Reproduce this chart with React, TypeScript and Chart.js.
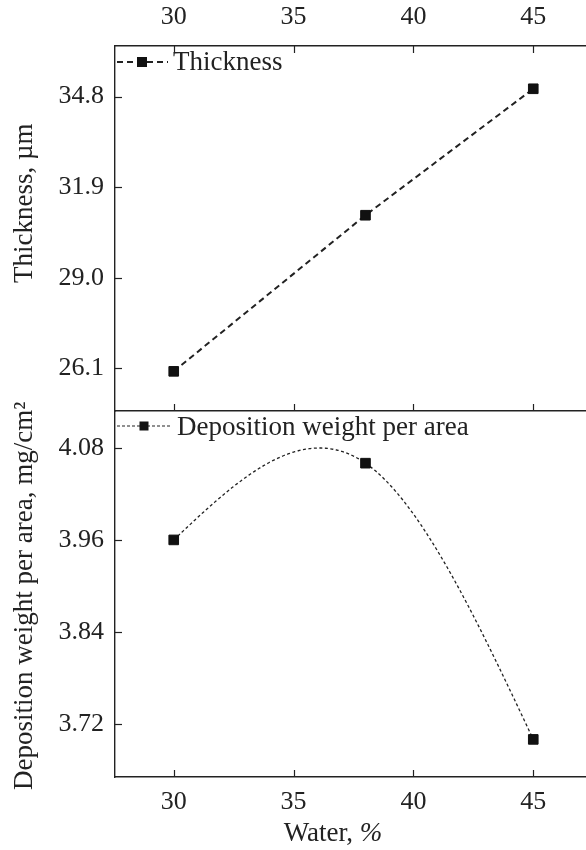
import { useEffect, useRef } from "react";
import { Chart, registerables } from "chart.js";

Chart.register(...registerables);

// Water content (%) and the two measured responses
const waterPct = [30, 38, 45];
const thickness = [26.0, 31.0, 35.05];
const depositionWeight = [3.96, 4.06, 3.7];

// Axis tick values
const waterTicks = [30, 35, 40, 45];
const thicknessTicks = [26.1, 29.0, 31.9, 34.8];
const weightTicks = [3.72, 3.84, 3.96, 4.08];

const FONT = "'Liberation Serif', 'Times New Roman', serif";
const INK = "#222";
const MARK = "#111";

const X_MIN = 27.55;
const X_MAX = 47.2;

// Tick marks drawn on the inside of the frame
const inwardTicks = {
  id: "inwardTicks",
  afterDraw(chart: any, _args: any, opts: any) {
    const { ctx, chartArea } = chart;
    const len = opts.length ?? 7;
    ctx.save();
    ctx.strokeStyle = opts.color ?? INK;
    ctx.lineWidth = opts.width ?? 1.2;
    for (const scale of Object.values<any>(chart.scales)) {
      if (!scale.options.display) continue;
      const pos = scale.options.position;
      scale.ticks.forEach((_t: any, i: number) => {
        const p = Math.round(scale.getPixelForTick(i)) + 0.5;
        ctx.beginPath();
        if (pos === "top") {
          ctx.moveTo(p, chartArea.top);
          ctx.lineTo(p, chartArea.top + len);
        } else if (pos === "bottom") {
          ctx.moveTo(p, chartArea.bottom);
          ctx.lineTo(p, chartArea.bottom - len);
        } else if (pos === "left") {
          ctx.moveTo(chartArea.left, p);
          ctx.lineTo(chartArea.left + len, p);
        }
        ctx.stroke();
      });
    }
    ctx.restore();
  },
};

// Legend entry placed inside the plot frame: line sample, marker, label
const panelLegend = {
  id: "panelLegend",
  afterDraw(chart: any, _args: any, opts: any) {
    const { ctx, chartArea } = chart;
    const ds = chart.data.datasets[0];
    const y = chartArea.top + opts.dy;
    ctx.save();
    ctx.strokeStyle = ds.borderColor;
    ctx.lineWidth = opts.lineWidth;
    ctx.setLineDash(opts.dash);
    ctx.beginPath();
    ctx.moveTo(chartArea.left + 2, y);
    ctx.lineTo(chartArea.left + opts.lineEnd, y);
    ctx.stroke();
    ctx.setLineDash([]);
    const s = opts.marker;
    ctx.fillStyle = MARK;
    ctx.fillRect(chartArea.left + opts.markerX - s / 2, y - s / 2, s, s);
    ctx.fillStyle = INK;
    ctx.font = `${opts.fontSize}px ${FONT}`;
    ctx.textBaseline = "middle";
    ctx.textAlign = "left";
    ctx.fillText(ds.label, chartArea.left + opts.textX, y + opts.textDy);
    ctx.restore();
  },
};

// Axis titles, placed relative to the plot frame; each title is a run of
// text parts so a part can be set in italics
const axisTitles = {
  id: "axisTitles",
  afterDraw(chart: any, _args: any, opts: any) {
    const { ctx, chartArea } = chart;
    ctx.save();
    ctx.fillStyle = INK;
    ctx.textBaseline = "middle";
    ctx.textAlign = "left";
    for (const t of opts.items ?? []) {
      const fontOf = (p: any) => `${p.italic ? "italic " : ""}${t.size}px ${FONT}`;
      const widths = t.parts.map((p: any) => {
        ctx.font = fontOf(p);
        return ctx.measureText(p.text).width;
      });
      const total = widths.reduce((s: number, w: number) => s + w, 0);
      const x = chartArea.left + t.dx;
      const y = (t.from === "top" ? chartArea.top : chartArea.bottom) + t.dy;
      ctx.save();
      ctx.translate(x, y);
      if (t.vertical) ctx.rotate(-Math.PI / 2);
      let cursor = t.align === "center" ? -total / 2 : 0;
      t.parts.forEach((p: any, i: number) => {
        ctx.font = fontOf(p);
        ctx.fillText(p.text, cursor, 0);
        cursor += widths[i];
      });
      ctx.restore();
    }
    ctx.restore();
  },
};

// Natural cubic spline through the dataset's points
function naturalSpline(xs: number[], ys: number[]) {
  const n = xs.length;
  const h: number[] = [];
  for (let i = 0; i < n - 1; i++) h.push(xs[i + 1] - xs[i]);
  const M = new Array(n).fill(0);
  const a: number[] = [], b: number[] = [], c: number[] = [], d: number[] = [];
  for (let i = 1; i < n - 1; i++) {
    a.push(h[i - 1]);
    b.push(2 * (h[i - 1] + h[i]));
    c.push(h[i]);
    d.push(6 * ((ys[i + 1] - ys[i]) / h[i] - (ys[i] - ys[i - 1]) / h[i - 1]));
  }
  const m = b.length;
  for (let i = 1; i < m; i++) {
    const w = a[i] / b[i - 1];
    b[i] -= w * c[i - 1];
    d[i] -= w * d[i - 1];
  }
  const sol = new Array(m).fill(0);
  for (let i = m - 1; i >= 0; i--) sol[i] = (d[i] - (i < m - 1 ? c[i] * sol[i + 1] : 0)) / b[i];
  for (let i = 0; i < m; i++) M[i + 1] = sol[i];
  return (x: number) => {
    let k = 0;
    while (k < n - 2 && x > xs[k + 1]) k++;
    const hk = h[k];
    const A = xs[k + 1] - x;
    const B = x - xs[k];
    return (
      (M[k] * A * A * A) / (6 * hk) +
      (M[k + 1] * B * B * B) / (6 * hk) +
      ((ys[k] - (M[k] * hk * hk) / 6) * A) / hk +
      ((ys[k + 1] - (M[k + 1] * hk * hk) / 6) * B) / hk
    );
  };
}

const splineLine = {
  id: "splineLine",
  beforeDatasetsDraw(chart: any, _args: any, opts: any) {
    if (!opts || !opts.enabled) return;
    const { ctx, chartArea } = chart;
    const meta = chart.getDatasetMeta(0);
    const xs = meta.data.map((p: any) => p.x);
    const ys = meta.data.map((p: any) => p.y);
    const f = naturalSpline(xs, ys);
    ctx.save();
    ctx.beginPath();
    ctx.rect(chartArea.left, chartArea.top, chartArea.width, chartArea.height);
    ctx.clip();
    ctx.strokeStyle = opts.color;
    ctx.lineWidth = opts.width;
    ctx.setLineDash(opts.dash);
    ctx.beginPath();
    const steps = 300;
    for (let i = 0; i <= steps; i++) {
      const x = xs[0] + ((xs[xs.length - 1] - xs[0]) * i) / steps;
      const y = f(x);
      if (i === 0) ctx.moveTo(x, y);
      else ctx.lineTo(x, y);
    }
    ctx.stroke();
    ctx.restore();
  },
};

const tickFont = { family: FONT, size: 26 };
const frameBorder = { color: INK, width: 1.4 };
const noGrid = { drawOnChartArea: false, drawTicks: false };

const setTicks = (values: number[]) => (scale: any) => {
  scale.ticks = values.map((v) => ({ value: v }));
};

// Fixed axis thickness, no label overhang padding
const fixSize = (dim: "width" | "height", size: number) => (s: any) => {
  s[dim] = size;
  s.paddingLeft = 0;
  s.paddingRight = 0;
  s.paddingTop = 0;
  s.paddingBottom = 0;
};

function topConfig(): any {
  return {
    type: "line",
    data: {
      datasets: [
        {
          label: "Thickness",
          data: waterPct.map((x, i) => ({ x, y: thickness[i] })),
          xAxisID: "xTop",
          yAxisID: "y",
          borderColor: INK,
          borderWidth: 2,
          borderDash: [6, 4],
          tension: 0,
          pointStyle: "rect",
          pointRadius: 6.8,
          pointBackgroundColor: MARK,
          pointBorderColor: MARK,
          pointBorderWidth: 1,
        },
      ],
    },
    options: {
      responsive: false,
      animation: false,
      events: [],
      layout: { padding: 0, autoPadding: false },
      plugins: {
        legend: { display: false },
        tooltip: { enabled: false },
        inwardTicks: { length: 7, color: INK, width: 1.2 },
        panelLegend: { dy: 16, lineEnd: 53, markerX: 27, marker: 10, textX: 58, textDy: 1, dash: [6, 4], lineWidth: 2, fontSize: 27 },
        axisTitles: {
          items: [
            { parts: [{ text: "Thickness, µm" }], size: 27, vertical: true, align: "left", dx: -90, from: "bottom", dy: -128 },
          ],
        },
      },
      scales: {
        xTop: {
          type: "linear",
          position: "top",
          min: X_MIN,
          max: X_MAX,
          afterBuildTicks: setTicks(waterTicks),
          afterFit: fixSize("height", 46),
          grid: noGrid,
          border: frameBorder,
          ticks: { font: tickFont, color: INK, padding: 13.5, maxRotation: 0 },
        },
        xBot: {
          type: "linear",
          position: "bottom",
          min: X_MIN,
          max: X_MAX,
          afterBuildTicks: setTicks(waterTicks),
          afterFit: fixSize("height", 3),
          grid: noGrid,
          border: frameBorder,
          ticks: { display: false },
        },
        y: {
          type: "linear",
          position: "left",
          min: 24.73,
          max: 36.42,
          afterBuildTicks: setTicks(thicknessTicks),
          afterFit: fixSize("width", 115),
          grid: noGrid,
          border: frameBorder,
          ticks: { font: tickFont, color: INK, padding: 11, callback: (v: number) => v.toFixed(1) },
        },
      },
    },
    plugins: [inwardTicks, panelLegend, axisTitles],
  };
}

function bottomConfig(): any {
  return {
    type: "line",
    data: {
      datasets: [
        {
          label: "Deposition weight per area",
          data: waterPct.map((x, i) => ({ x, y: depositionWeight[i] })),
          xAxisID: "x",
          yAxisID: "y",
          borderColor: INK,
          showLine: false,
          pointStyle: "rect",
          pointRadius: 6.8,
          pointBackgroundColor: MARK,
          pointBorderColor: MARK,
          pointBorderWidth: 1,
        },
      ],
    },
    options: {
      responsive: false,
      animation: false,
      events: [],
      layout: { padding: { top: 11, left: 0, right: 0, bottom: 0 }, autoPadding: false },
      plugins: {
        legend: { display: false },
        tooltip: { enabled: false },
        inwardTicks: { length: 7, color: INK, width: 1.2 },
        panelLegend: { dy: 15, lineEnd: 57, markerX: 29, marker: 9, textX: 62, textDy: 2, dash: [3, 2], lineWidth: 1.2, fontSize: 27 },
        splineLine: { enabled: true, color: INK, width: 1.3, dash: [3, 2.5] },
        axisTitles: {
          items: [
            { parts: [{ text: "Deposition weight per area, mg/cm²" }], size: 27, vertical: true, align: "left", dx: -90, from: "bottom", dy: 13 },
            { parts: [{ text: "Water, " }, { text: "%", italic: true }], size: 27, vertical: false, align: "center", dx: 218, from: "bottom", dy: 57 },
          ],
        },
      },
      scales: {
        x: {
          type: "linear",
          position: "bottom",
          min: X_MIN,
          max: X_MAX,
          afterBuildTicks: setTicks(waterTicks),
          afterFit: fixSize("height", 73),
          grid: noGrid,
          border: frameBorder,
          ticks: { font: tickFont, color: INK, padding: 9.5, maxRotation: 0 },
        },
        y: {
          type: "linear",
          position: "left",
          min: 3.651,
          max: 4.128,
          afterBuildTicks: setTicks(weightTicks),
          afterFit: fixSize("width", 115),
          grid: noGrid,
          border: frameBorder,
          ticks: { font: tickFont, color: INK, padding: 11, callback: (v: number) => v.toFixed(2) },
        },
      },
    },
    plugins: [inwardTicks, panelLegend, splineLine, axisTitles],
  };
}

export default function App() {
  const topRef = useRef<HTMLCanvasElement>(null);
  const botRef = useRef<HTMLCanvasElement>(null);

  useEffect(() => {
    const top = new Chart(topRef.current as HTMLCanvasElement, topConfig());
    const bot = new Chart(botRef.current as HTMLCanvasElement, bottomConfig());
    return () => {
      top.destroy();
      bot.destroy();
    };
  }, []);

  return (
    <div style={{ position: "absolute", left: 0, top: 0, width: 586, height: 850, background: "#fff", overflow: "hidden" }}>
      <canvas ref={botRef} width={586} height={450} style={{ position: "absolute", left: 0, top: 400 }} />
      <canvas ref={topRef} width={586} height={414} style={{ position: "absolute", left: 0, top: 0 }} />
    </div>
  );
}
